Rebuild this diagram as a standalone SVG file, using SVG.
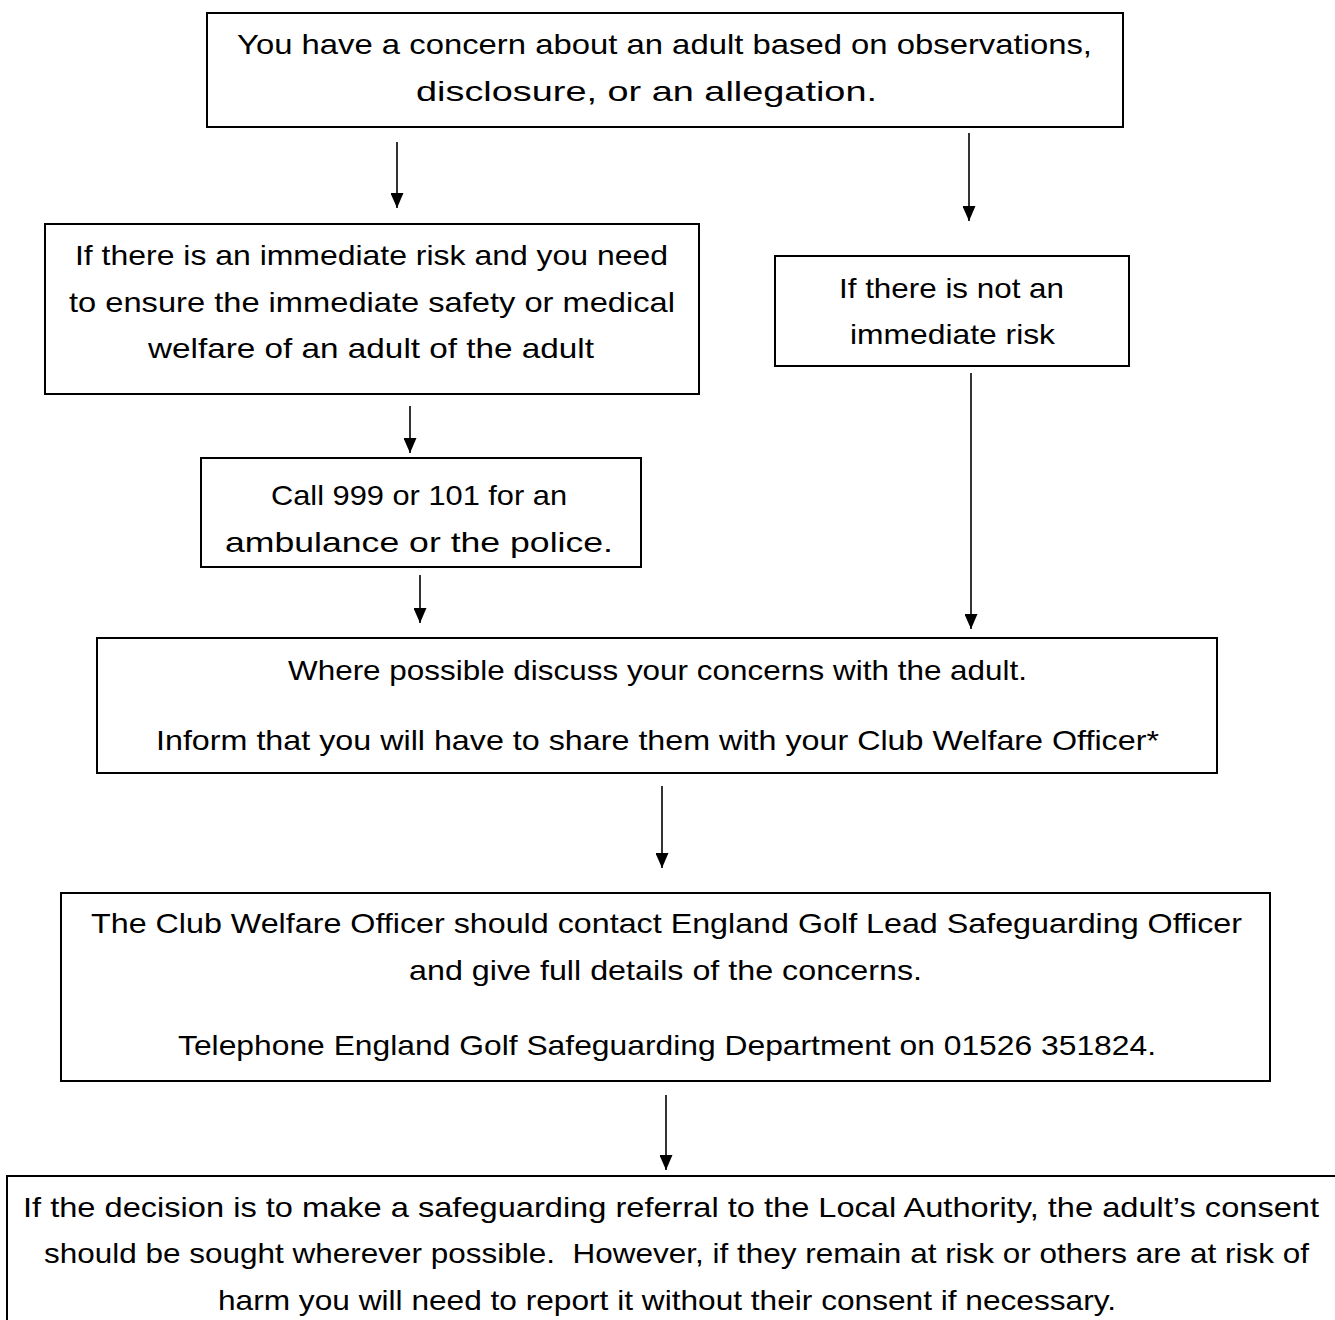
<svg xmlns="http://www.w3.org/2000/svg" width="1335" height="1320" viewBox="0 0 1335 1320">
<style>
.box{fill:#fff;stroke:#000;stroke-width:2}
.t{font-family:"Liberation Sans",Arial,sans-serif;font-size:28px;fill:#000;text-anchor:middle}
.c{stroke:#000;stroke-width:1.6;fill:none;marker-end:url(#ah)}
</style>
<defs>
<marker id="ah" viewBox="0 0 15 13" refX="15" refY="6.5" markerWidth="15" markerHeight="13" markerUnits="userSpaceOnUse" orient="auto">
<path d="M0,0 L15,6.5 L0,13 z" fill="#000"/>
</marker>
</defs>
<rect width="1335" height="1320" fill="#fff"/>
<g id="connectors">
<line class="c" x1="397" y1="142" x2="397" y2="208"/>
<line class="c" x1="969" y1="133" x2="969" y2="221"/>
<line class="c" x1="410" y1="406" x2="410" y2="453"/>
<line class="c" x1="420" y1="575" x2="420" y2="623"/>
<line class="c" x1="971" y1="373" x2="971" y2="629"/>
<line class="c" x1="662" y1="786" x2="662" y2="868"/>
<line class="c" x1="666" y1="1095" x2="666" y2="1170"/>
</g>
<g id="n1">
<rect class="box" x="207" y="13" width="916" height="114"/>
<text class="t" x="664.5" y="54" textLength="855" lengthAdjust="spacingAndGlyphs">You have a concern about an adult based on observations,</text>
<text class="t" x="646.5" y="101" textLength="461" lengthAdjust="spacingAndGlyphs">disclosure, or an allegation.</text>
</g>
<g id="n2">
<rect class="box" x="45" y="224" width="654" height="170"/>
<text class="t" x="371.5" y="265" textLength="593" lengthAdjust="spacingAndGlyphs">If there is an immediate risk and you need</text>
<text class="t" x="372" y="312" textLength="606" lengthAdjust="spacingAndGlyphs">to ensure the immediate safety or medical</text>
<text class="t" x="371" y="358" textLength="446" lengthAdjust="spacingAndGlyphs">welfare of an adult of the adult</text>
</g>
<g id="n3">
<rect class="box" x="775" y="256" width="354" height="110"/>
<text class="t" x="951.5" y="298" textLength="225" lengthAdjust="spacingAndGlyphs">If there is not an</text>
<text class="t" x="952.5" y="344" textLength="205" lengthAdjust="spacingAndGlyphs">immediate risk</text>
</g>
<g id="n4">
<rect class="box" x="201" y="458" width="440" height="109"/>
<text class="t" x="419" y="505" textLength="296" lengthAdjust="spacingAndGlyphs">Call 999 or 101 for an</text>
<text class="t" x="419" y="552" textLength="388" lengthAdjust="spacingAndGlyphs">ambulance or the police.</text>
</g>
<g id="n5">
<rect class="box" x="97" y="638" width="1120" height="135"/>
<text class="t" x="657.5" y="680" textLength="739" lengthAdjust="spacingAndGlyphs">Where possible discuss your concerns with the adult.</text>
<text class="t" x="657.5" y="750" textLength="1003" lengthAdjust="spacingAndGlyphs">Inform that you will have to share them with your Club Welfare Officer*</text>
</g>
<g id="n6">
<rect class="box" x="61" y="893" width="1209" height="188"/>
<text class="t" x="666.5" y="933" textLength="1151" lengthAdjust="spacingAndGlyphs">The Club Welfare Officer should contact England Golf Lead Safeguarding Officer</text>
<text class="t" x="665.5" y="980" textLength="513" lengthAdjust="spacingAndGlyphs">and give full details of the concerns.</text>
<text class="t" x="667" y="1055" textLength="978" lengthAdjust="spacingAndGlyphs">Telephone England Golf Safeguarding Department on 01526 351824.</text>
</g>
<g id="n7">
<rect class="box" x="7" y="1176" width="1340" height="160"/>
<text class="t" x="671" y="1217" textLength="1296" lengthAdjust="spacingAndGlyphs">If the decision is to make a safeguarding referral to the Local Authority, the adult’s consent</text>
<text class="t" x="676.5" y="1263" textLength="1265" lengthAdjust="spacingAndGlyphs" xml:space="preserve">should be sought wherever possible.  However, if they remain at risk or others are at risk of</text>
<text class="t" x="667" y="1310" textLength="898" lengthAdjust="spacingAndGlyphs">harm you will need to report it without their consent if necessary.</text>
</g>
</svg>
